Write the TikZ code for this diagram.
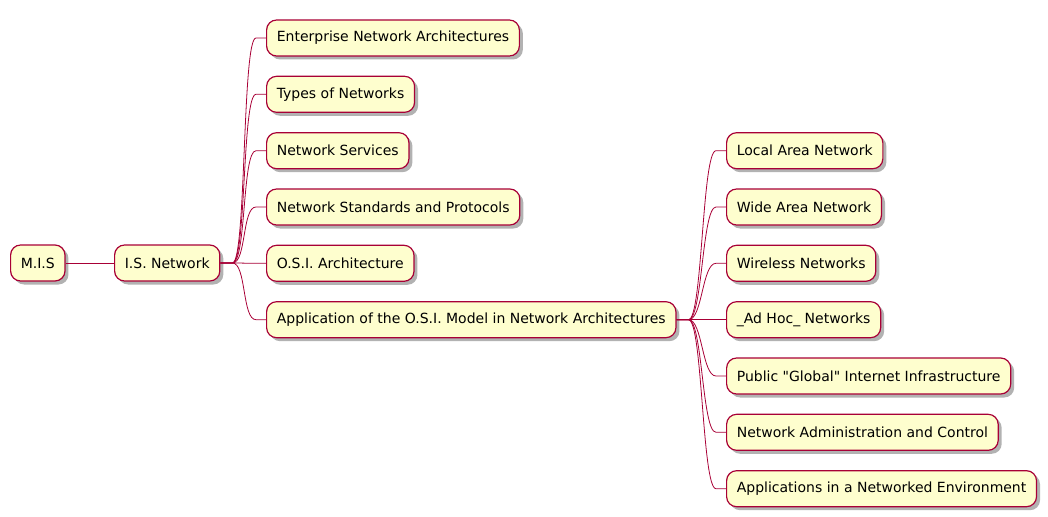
\documentclass[tikz,border=0pt]{standalone}
\usepackage{fontspec}
\setmainfont{DejaVu Sans}
\usepackage{xcolor}
\usetikzlibrary{calc,shadows}
\definecolor{mapred}{HTML}{A80036}
\definecolor{mapfill}{HTML}{FEFECE}
\tikzset{
  map box/.style  = {draw=mapred, fill=mapfill, rounded corners=10pt,
                      line width=1.2pt, minimum height=36pt, inner xsep=10.2pt,
                      anchor=west, font=\fontsize{14}{16}\selectfont,
                      drop shadow={shadow xshift=3.5pt, shadow yshift=-3.5pt,
                                   fill=black, opacity=0.3}},
  map link/.style = {draw=mapred, line width=0.8pt},
}

\begin{document}
\begin{tikzpicture}[x=1pt, y=-1pt]
  \useasboundingbox (0,0) rectangle (1048,516);

  %% --- root and first level --------------------------------------
  \node[map box] (mis) at (10,263) {M.I.S};
  \node[map box] (isn) at (114,263) {I.S. Network};
  \draw[map link] (mis.east) -- (isn.west);

  %% --- second level ----------------------------------------------
  \node[map box] (ena) at (266,38)    {Enterprise Network Architectures};
  \node[map box] (ton) at (266,94.3)  {Types of Networks};
  \node[map box] (nsv) at (266,150.7) {Network Services};
  \node[map box] (nsp) at (266,207)   {Network Standards and Protocols};
  \node[map box] (osi) at (266,263.3) {O.S.I. Architecture};
  \node[map box] (app) at (266,319.7) {Application of the O.S.I. Model in Network Architectures};

  \foreach \child in {ena,ton,nsv,nsp,osi,app}
    \draw[map link] (isn.east) -- ++(12,0)
      .. controls +(14,0) and +(-14,0) .. ($(\child.west)+(-10,0)$)
      -- (\child.west);

  %% --- third level -----------------------------------------------
  \node[map box] (lan) at (726,150.7) {Local Area Network};
  \node[map box] (wan) at (726,207)   {Wide Area Network};
  \node[map box] (wls) at (726,263.3) {Wireless Networks};
  \node[map box] (adh) at (726,319.7) {\_Ad Hoc\_ Networks};
  \node[map box] (pgi) at (726,376)   {Public \textquotedbl Global\textquotedbl{} Internet Infrastructure};
  \node[map box] (nac) at (726,432.3) {Network Administration and Control};
  \node[map box] (ane) at (726,488.7) {Applications in a Networked Environment};

  \foreach \child in {lan,wan,wls,adh,pgi,nac,ane}
    \draw[map link] (app.east) -- ++(12,0)
      .. controls +(14,0) and +(-14,0) .. ($(\child.west)+(-10,0)$)
      -- (\child.west);
\end{tikzpicture}
\end{document}
